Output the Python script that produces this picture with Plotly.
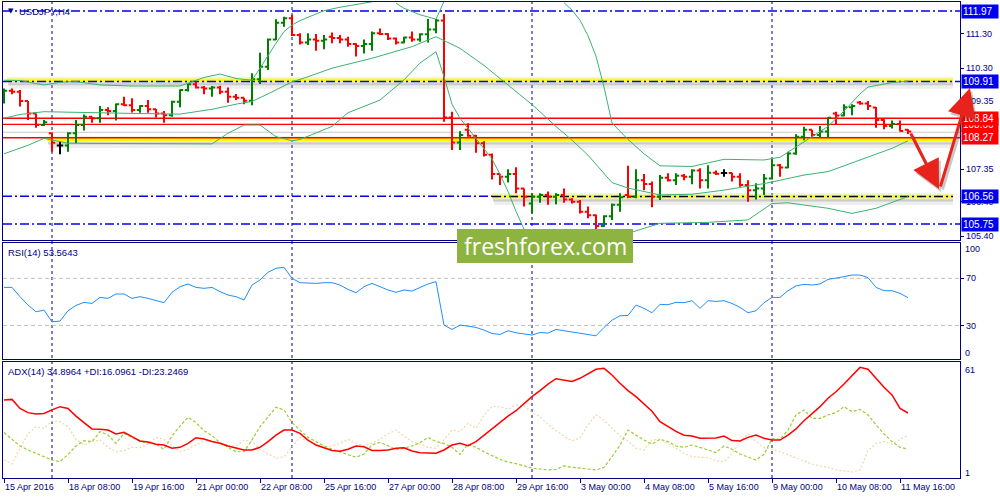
import plotly.graph_objects as go

# ---------------- data ----------------
tick_bars = [0, 8, 16, 24, 32, 40, 48, 56, 64, 72, 80, 88, 96, 104, 112]
tick_labels = ["15 Apr 2016", "18 Apr 08:00", "19 Apr 16:00", "21 Apr 00:00", "22 Apr 08:00",
               "25 Apr 16:00", "27 Apr 00:00", "28 Apr 08:00", "29 Apr 16:00", "3 May 00:00",
               "4 May 08:00", "5 May 16:00", "9 May 00:00", "10 May 08:00", "11 May 16:00"]
separator_bars = [6, 36, 66, 96]

opens = [109.40, 109.64, 109.61, 109.34, 108.98, 108.64, 108.40, 108.04, 108.04, 108.40,
         108.64, 108.88, 108.84, 109.08, 109.05, 109.25, 109.22, 109.08, 109.20, 109.10,
         108.98, 108.93, 109.32, 109.66, 109.83, 109.74, 109.71, 109.74, 109.61, 109.47,
         109.44, 109.35, 109.98, 110.34, 111.14, 111.63, 111.76, 111.27, 111.05, 111.14,
         111.10, 111.22, 111.18, 111.14, 111.01, 110.95, 111.01, 111.32, 111.30, 111.17,
         111.05, 111.20, 111.14, 111.29, 111.43, 111.69, 108.86, 108.13, 108.50, 108.33,
         108.11, 107.77, 107.21, 107.13, 107.21, 106.79, 106.35, 106.55, 106.60, 106.55,
         106.60, 106.47, 106.40, 106.11, 106.01, 105.69, 105.98, 106.31, 106.60, 106.55,
         107.03, 106.92, 106.55, 107.10, 107.03, 107.16, 107.13, 107.31, 107.03, 107.25,
         107.24, 107.24, 107.13, 106.89, 106.74, 106.79, 107.08, 107.47, 107.40, 107.81,
         108.30, 108.50, 108.35, 108.45, 108.98, 108.92, 109.16, 109.30, 109.27, 109.15,
         108.79, 108.61, 108.67, 108.50]
highs = [109.71, 109.71, 109.66, 109.34, 108.98, 108.79, 108.42, 108.15, 108.43, 108.79,
         108.95, 108.88, 109.20, 109.16, 109.27, 109.47, 109.42, 109.22, 109.37, 109.11,
         109.05, 109.35, 109.68, 109.86, 109.91, 109.78, 109.78, 109.79, 109.74, 109.55,
         109.44, 110.15, 110.75, 111.17, 111.73, 111.80, 111.85, 111.32, 111.32, 111.30,
         111.27, 111.34, 111.27, 111.22, 111.03, 111.14, 111.37, 111.46, 111.32, 111.20,
         111.22, 111.37, 111.32, 111.74, 111.74, 111.88, 109.03, 108.46, 108.69, 108.35,
         108.17, 107.81, 107.22, 107.35, 107.41, 106.79, 106.65, 106.65, 106.70, 106.65,
         106.79, 106.50, 106.45, 106.26, 106.03, 106.01, 106.35, 106.65, 107.45, 107.35,
         107.21, 106.99, 107.18, 107.23, 107.23, 107.21, 107.35, 107.38, 107.47, 107.31,
         107.35, 107.25, 107.23, 107.03, 106.94, 107.21, 107.64, 107.50, 107.86, 108.37,
         108.59, 108.50, 108.61, 108.87, 109.03, 109.25, 109.25, 109.34, 109.34, 109.17,
         108.81, 108.77, 108.77, 108.52]
lows = [109.27, 109.54, 109.18, 108.79, 108.56, 108.61, 107.86, 107.79, 107.86, 108.11,
        108.48, 108.71, 108.71, 108.93, 108.77, 109.20, 109.01, 109.00, 109.00, 108.86,
        108.71, 108.88, 109.16, 109.62, 109.71, 109.54, 109.47, 109.54, 109.29, 109.37,
        109.25, 109.22, 109.84, 110.25, 111.12, 111.51, 111.24, 110.99, 110.98, 110.81,
        110.85, 111.03, 111.03, 110.93, 110.64, 110.73, 110.81, 111.27, 111.12, 110.99,
        111.03, 111.07, 111.07, 111.05, 111.32, 108.74, 107.91, 107.91, 108.30, 107.83,
        107.72, 107.05, 106.89, 106.96, 106.65, 106.26, 106.06, 106.37, 106.31, 106.33,
        106.37, 106.35, 106.06, 105.92, 105.59, 105.67, 105.87, 106.11, 106.50, 106.50,
        106.74, 106.24, 106.45, 106.99, 106.89, 107.03, 106.91, 106.79, 106.79, 107.18,
        107.13, 106.99, 106.84, 106.40, 106.47, 106.60, 107.05, 107.13, 107.38, 107.77,
        108.20, 108.28, 108.28, 108.28, 108.64, 108.90, 108.93, 109.23, 109.08, 108.56,
        108.52, 108.54, 108.45, 108.38]
closes = [109.64, 109.61, 109.34, 108.98, 108.64, 108.72, 108.12, 108.04, 108.40, 108.64,
          108.88, 108.84, 109.08, 109.05, 109.25, 109.22, 109.08, 109.20, 109.10, 108.98,
          108.93, 109.32, 109.66, 109.83, 109.74, 109.71, 109.74, 109.61, 109.47, 109.44,
          109.35, 109.98, 110.34, 111.14, 111.63, 111.76, 111.27, 111.05, 111.14, 111.10,
          111.14, 111.18, 111.14, 111.01, 110.95, 111.01, 111.32, 111.30, 111.17, 111.05,
          111.20, 111.14, 111.29, 111.43, 111.69, 108.86, 108.13, 108.35, 108.33, 108.11,
          107.77, 107.21, 107.13, 107.21, 106.79, 106.55, 106.55, 106.60, 106.55, 106.60,
          106.47, 106.40, 106.11, 106.01, 105.69, 105.98, 106.31, 106.53, 106.55, 107.03,
          106.92, 106.55, 107.10, 107.03, 107.16, 107.13, 107.31, 107.03, 107.25, 107.22,
          107.24, 107.13, 106.89, 106.74, 106.79, 107.08, 107.47, 107.40, 107.81, 108.30,
          108.50, 108.35, 108.45, 108.85, 108.92, 109.16, 109.20, 109.27, 109.20, 108.79,
          108.61, 108.67, 108.47, 108.45]
doji_bars = [7, 90]

# Bollinger bands (None = off-chart)
bb_upper_x = [0, 2, 5, 7, 9, 12, 16, 22, 25, 27, 29, 31, 32, 33, 34, 35, 36, 37, 40, 42, 44, 46,
              None, 49, 50, 52, 54, 55, None,
              70, 71, 72, 73, 74, 75, 76, 77, 78, 80, 82, 86, 90, 95, 97, 99, 101, 103, 105,
              106, 107, 108, 111, 113]
bb_upper_y = [109.95, 109.94, 109.81, 109.89, 109.91, 109.81, 109.78, 109.78, 110.03, 110.13,
              110.00, 109.95, 110.30, 110.68, 111.03, 111.37, 111.56, 111.69, 111.98, 112.08,
              112.16, 112.24, None, 112.20, 112.05, 111.86, 111.73, 112.25, None,
              112.21, 112.00, 111.70, 111.25, 110.65, 109.75, 108.70, 108.45, 108.22, 107.80,
              107.45, 107.43, 107.64, 107.62, 107.70, 108.00, 108.30, 108.60, 109.05, 109.30,
              109.55, 109.75, 109.88, 109.92]
bb_mid_x = [0, 2, 5, 10, 16, 22, 26, 29, 31, 33, 36, 38, 41, 46, 51, 54, 57, 60, 62, 66, 69, 71,
            73, 76, 78, 82, 86, 90, 95, 100, 103, 107, 111, 113]
bb_mid_y = [108.84, 108.95, 109.03, 109.00, 108.98, 108.96, 109.10, 109.25, 109.33, 109.55,
            109.90, 110.05, 110.30, 110.59, 110.93, 111.22, 110.88, 110.38, 110.00, 109.24,
            108.60, 108.20, 107.76, 106.96, 106.80, 106.60, 106.62, 106.74, 106.93, 107.18,
            107.28, 107.62, 107.96, 108.18]
bb_low_x = [0, 3, 5, 8, 15, 26, 28, 30, 32, 34, 36, 37, 41, 43, 47, 50, 52, 54, 55, 56, 57, 58,
            59, 60, 61, 62, 63, 64, 65, None, 78, 82, 88, 93, 96, 98, 103, 106, 109, 113]
bb_low_y = [107.80, 108.05, 108.25, 108.11, 108.10, 108.09, 108.40, 108.64, 108.64, 108.30,
            108.18, 108.22, 108.60, 109.00, 109.37, 109.96, 110.45, 110.78, 110.05, 109.25,
            108.84, 108.54, 108.25, 107.95, 107.65, 107.20, 106.70, 106.12, 105.60, None,
            105.48, 105.77, 105.80, 105.87, 106.35, 106.37, 106.21, 106.06, 106.21, 106.55]

rsi = [62.3, 62.3, 54.4, 47.3, 41.6, 43.0, 33.1, 33.7, 42.5, 47.0,
       49.6, 48.7, 53.8, 53.0, 56.7, 56.7, 53.0, 54.4, 53.0, 51.0,
       49.3, 58.1, 62.9, 65.2, 62.3, 61.5, 62.3, 58.7, 55.8, 54.4,
       51.6, 64.3, 68.6, 75.1, 78.5, 79.4, 70.0, 66.3, 65.7, 65.7,
       66.3, 66.3, 64.3, 60.6, 57.8, 62.9, 65.7, 62.9, 60.1, 58.1,
       60.1, 59.2, 62.3, 65.2, 67.2, 30.3, 26.6, 30.3, 29.4, 28.3,
       26.0, 23.2, 22.3, 25.5, 23.8, 22.6, 21.8, 24.0, 23.5, 26.6,
       25.5, 24.6, 23.5, 22.6, 21.2, 28.3, 34.5, 38.2, 38.5, 47.3,
       44.5, 40.8, 47.9, 47.6, 49.6, 49.3, 51.0, 44.5, 51.0, 50.4,
       51.0, 48.7, 45.3, 40.8, 42.5, 49.3, 53.8, 53.8, 59.5, 63.5,
       64.9, 64.3, 65.2, 69.1, 70.0, 71.4, 72.8, 72.8, 70.6, 62.3,
       59.5, 59.5, 57.2, 53.6]
adx = [41.7, 42.0, 37.3, 35.1, 34.4, 34.7, 36.5, 38.2, 37.3, 33.3,
       29.9, 26.6, 26.4, 26.0, 24.0, 24.8, 22.6, 20.3, 19.8, 18.6,
       18.2, 16.5, 17.0, 19.1, 22.0, 21.3, 20.0, 19.1, 17.7, 16.5,
       15.6, 15.6, 17.0, 20.0, 23.4, 26.0, 26.0, 24.3, 20.8, 18.2,
       16.8, 15.3, 14.9, 16.0, 17.7, 17.3, 15.4, 15.3, 15.6, 16.5,
       16.8, 15.1, 14.2, 13.9, 13.9, 15.6, 18.2, 19.1, 17.9, 20.0,
       23.4, 26.9, 30.4, 33.3, 36.1, 40.0, 43.4, 46.6, 50.0, 52.8,
       52.1, 51.3, 53.0, 55.3, 57.7, 58.2, 54.7, 50.4, 46.6, 43.4,
       39.5, 35.8, 30.4, 27.8, 25.3, 23.3, 22.9, 21.7, 21.7, 21.9,
       22.9, 20.5, 20.3, 22.2, 23.4, 21.7, 20.8, 20.8, 23.4, 26.6,
       30.9, 34.7, 38.2, 42.6, 46.0, 50.0, 54.2, 58.7, 57.7, 53.0,
       48.3, 44.3, 37.3, 34.9]
plus_di = [24.7, 21.3, 17.7, 15.6, 13.9, 11.8, 10.4, 9.5, 13.3, 17.7,
           20.5, 20.0, 25.2, 23.4, 19.1, 24.3, 22.2, 20.0, 19.4, 18.7,
           16.0, 22.9, 28.1, 32.7, 29.9, 25.7, 23.1, 19.4, 17.0, 14.7,
           14.7, 20.8, 27.8, 33.0, 37.9, 36.5, 29.9, 26.0, 22.2, 20.0,
           17.7, 16.0, 14.7, 13.0, 11.8, 13.5, 18.2, 19.6, 17.7, 16.0,
           16.5, 17.7, 19.4, 22.2, 20.0, 19.1, 17.0, 13.3, 18.7, 17.0,
           14.7, 12.5, 10.7, 9.3, 8.5, 7.3, 6.2, 5.7, 5.2, 5.5,
           7.3, 6.6, 6.0, 5.7, 5.2, 6.6, 12.1, 18.2, 26.0, 23.4,
           20.8, 18.7, 21.2, 20.0, 17.7, 17.0, 18.2, 17.0, 15.6, 14.2,
           17.7, 16.0, 13.5, 12.1, 10.4, 13.3, 21.5, 21.2, 26.0, 33.9,
           36.5, 32.1, 32.1, 33.9, 35.1, 38.2, 35.6, 36.8, 33.9, 28.7,
           24.0, 20.0, 17.0, 16.1]
minus_di = [10.4, 8.3, 16.5, 24.0, 27.8, 26.9, 30.7, 30.4, 27.8, 21.2,
            18.2, 20.0, 20.8, 17.0, 14.7, 15.3, 17.0, 16.8, 18.7, 22.2,
            21.2, 17.7, 14.7, 16.0, 18.2, 20.5, 20.0, 19.4, 17.7, 17.7,
            20.8, 20.0, 16.0, 13.5, 11.3, 12.1, 17.0, 22.2, 20.0, 18.7,
            17.3, 17.7, 19.1, 21.2, 19.1, 17.7, 19.1, 21.2, 24.0, 26.0,
            22.9, 20.0, 18.7, 17.0, 16.5, 20.8, 26.0, 25.2, 29.5, 26.9,
            33.9, 38.2, 38.2, 36.8, 39.1, 38.6, 35.1, 33.0, 29.0, 25.7,
            22.9, 20.3, 22.0, 28.7, 33.9, 31.3, 26.9, 22.9, 20.5, 16.5,
            15.6, 20.8, 21.2, 19.1, 16.5, 13.9, 12.1, 11.8, 11.6, 10.0,
            9.5, 13.5, 20.0, 24.0, 20.0, 16.8, 16.0, 14.7, 13.0, 11.4,
            9.9, 8.3, 7.3, 6.6, 5.2, 4.7, 4.1, 5.2, 15.3, 19.1,
            20.0, 18.7, 21.2, 23.2]

price_ticks = [111.30, 110.30, 109.35, 107.35, 106.40, 105.40]
rsi_levels = [70, 30]
blue_levels = [111.97, 109.91, 106.56, 105.75]
red_levels = [108.84, 108.66, 108.27]
bid_price = 108.43
yellow_levels = [109.95, 108.22, 106.555]
trend_level = 106.555
label_prices = [111.97, 109.91, 108.66, 108.84, 108.27, 106.56, 105.75]
label_kinds = ["blue", "blue", "red", "red", "red", "blue", "blue"]

symbol_text = "USDJPY,H4"
rsi_text = "RSI(14) 53.5643"
adx_text = "ADX(14) 34.8964 +DI:16.0961 -DI:23.2469"
watermark_text = "freshforex.com"

# ---------------- layout geometry / style ----------------
N = len(closes)
bars = list(range(N))
FIG_W, FIG_H = 1000, 500
ML, MR, MT, MB = 3, 40, 2, 22
PW, PH = FIG_W - ML - MR, FIG_H - MT - MB
X_RANGE = [-0.125, 119.5]
PRICE_RANGE = [105.284, 112.233]
RSI_RANGE = [1.5, 100]
ADX_RANGE = [1, 61.5]


def fx(px):
    return (px - ML) / PW


def fy(py):
    return (FIG_H - MB - py) / PH


MAIN_DOM = [fy(240), fy(2)]
RSI_DOM = [fy(359), fy(243)]
ADX_DOM = [fy(478), fy(362)]
PRICE_PER_PX = (PRICE_RANGE[1] - PRICE_RANGE[0]) / (240 - 2)

NAVY = "#000080"
FONT = "Liberation Sans"
BLUE = "#0000F0"
RED = "#FF0000"
GREEN_BAR = "#008000"
BB_COLOR = "#3CB371"

fig = go.Figure()

regular = [i for i in bars if i not in doji_bars]
fig.add_trace(go.Ohlc(
    x=regular,
    open=[opens[i] for i in regular], high=[highs[i] for i in regular],
    low=[lows[i] for i in regular], close=[closes[i] for i in regular],
    increasing=dict(line=dict(color=GREEN_BAR, width=2)),
    decreasing=dict(line=dict(color=RED, width=2)),
    tickwidth=0.4, xaxis="x", yaxis="y", hoverinfo="none"))
fig.add_trace(go.Ohlc(
    x=doji_bars,
    open=[opens[i] for i in doji_bars], high=[highs[i] for i in doji_bars],
    low=[lows[i] for i in doji_bars], close=[closes[i] for i in doji_bars],
    increasing=dict(line=dict(color="black", width=2)),
    decreasing=dict(line=dict(color="black", width=2)),
    tickwidth=0.4, xaxis="x", yaxis="y", hoverinfo="none"))

for bx, by in [(bb_upper_x, bb_upper_y), (bb_mid_x, bb_mid_y), (bb_low_x, bb_low_y)]:
    fig.add_trace(go.Scatter(x=bx, y=by, mode="lines", connectgaps=False,
                             line=dict(color=BB_COLOR, width=1), xaxis="x", yaxis="y"))

fig.add_trace(go.Scatter(x=bars, y=rsi, mode="lines", line=dict(color="#1E90FF", width=1),
                         xaxis="x2", yaxis="y2"))

fig.add_trace(go.Scatter(x=bars, y=minus_di, mode="lines",
                         line=dict(color="#F0D7A8", width=1.2, dash="2px,2px"), xaxis="x3", yaxis="y3"))
fig.add_trace(go.Scatter(x=bars, y=plus_di, mode="lines",
                         line=dict(color="#9ACD32", width=1.2, dash="3px,2px"), xaxis="x3", yaxis="y3"))
fig.add_trace(go.Scatter(x=bars, y=adx, mode="lines", line=dict(color="#FF0000", width=1.5),
                         xaxis="x3", yaxis="y3"))

shapes = []


def hline(price, x0px, x1px, color, width, dash="solid", layer="below", yref="y"):
    shapes.append(dict(type="line", xref="paper", yref=yref, x0=fx(x0px), x1=fx(x1px),
                       y0=price, y1=price, layer=layer,
                       line=dict(color=color, width=width, dash=dash)))


# week separators
for b in separator_bars:
    shapes.append(dict(type="line", xref="x", yref="paper", x0=b, x1=b, y0=0, y1=1, layer="below",
                       line=dict(color=NAVY, width=1, dash="3px,3px")))

# RSI levels
for lv in rsi_levels:
    hline(lv, ML, ML + PW, "#C0C0C0", 1, "4px,3px", yref="y2")

# yellow highlighted levels with soft shadow
yellow_start_px = [7, 47, 492]
for lv, x0 in zip(yellow_levels, yellow_start_px):
    hline(lv - 6 * PRICE_PER_PX, x0 + 2, 953, "rgba(150,150,150,0.16)", 5)
    hline(lv - 3.5 * PRICE_PER_PX, x0 + 1, 953, "rgba(120,120,120,0.30)", 3)
    hline(lv + 2.5 * PRICE_PER_PX, x0, 953, "rgba(160,160,160,0.15)", 2)
    hline(lv, x0, 953, "#FFFF00", 3.5)

# blue dash-dot levels
for lv in blue_levels:
    x1 = 492 if abs(lv - trend_level) < 0.05 else ML + PW
    hline(lv, ML, x1, BLUE, 1.6, "9px,3px,2px,3px")
hline(trend_level, 492, 953, "#000000", 1.5, "9px,3px,2px,3px")

# bid line and red levels
hline(bid_price, ML, ML + PW, "#C8C8C8", 1)
for lv in red_levels:
    hline(lv, ML, ML + PW, RED, 1.4)

# watermark box
shapes.append(dict(type="rect", xref="paper", yref="paper", x0=fx(457), x1=fx(633),
                   y0=fy(263), y1=fy(229), fillcolor="#8DB43F", line=dict(width=0), layer="above"))

ann = []
# price labels
for p, kind in zip(label_prices, label_kinds):
    ann.append(dict(xref="paper", yref="y", x=fx(961), y=p, xanchor="left", yanchor="middle",
                    text=f"{p:.2f}", showarrow=False,
                    font=dict(family=FONT, size=10, color="white"),
                    bgcolor=BLUE if kind == "blue" else RED,
                    width=34, height=11, borderpad=1, align="left"))

# arrows (shadow first)
arrows = [((910, 132), (939, 189)), ((940, 188), (970, 88))]
for (tx, ty), (hx, hy) in arrows:
    ann.append(dict(xref="paper", yref="paper", x=fx(hx + 2), y=fy(hy + 3), axref="pixel", ayref="pixel",
                    ax=tx - hx, ay=ty - hy, text="", showarrow=True, arrowhead=2, arrowsize=1.9,
                    arrowwidth=3, arrowcolor="rgba(60,60,60,0.28)"))
for (tx, ty), (hx, hy) in arrows:
    ann.append(dict(xref="paper", yref="paper", x=fx(hx), y=fy(hy), axref="pixel", ayref="pixel",
                    ax=tx - hx, ay=ty - hy, text="", showarrow=True, arrowhead=2, arrowsize=1.9,
                    arrowwidth=3, arrowcolor="#E8231B"))

# watermark text
ann.append(dict(xref="paper", yref="paper", x=fx(545), y=fy(246), text=watermark_text,
                showarrow=False, font=dict(family="Open Sans", size=23, color="white"),
                xanchor="center", yanchor="middle"))

# panel titles
ann.append(dict(xref="paper", yref="paper", x=fx(6), y=fy(11), text="▼", showarrow=False,
                font=dict(family="DejaVu Sans", size=7, color=NAVY), xanchor="left", yanchor="middle"))
ann.append(dict(xref="paper", yref="paper", x=fx(17), y=fy(11), text=symbol_text, showarrow=False,
                font=dict(family=FONT, size=9.5, color=NAVY), xanchor="left", yanchor="middle"))
ann.append(dict(xref="paper", yref="paper", x=fx(6), y=fy(252), text=rsi_text, showarrow=False,
                font=dict(family=FONT, size=9.5, color=NAVY), xanchor="left", yanchor="middle"))
ann.append(dict(xref="paper", yref="paper", x=fx(6), y=fy(371), text=adx_text, showarrow=False,
                font=dict(family=FONT, size=9.5, color=NAVY), xanchor="left", yanchor="middle"))

# indicator window edge values
for txt, py in [("100", 249), ("0", 353), ("61", 370), ("1", 473)]:
    ann.append(dict(xref="paper", yref="paper", x=fx(963), y=fy(py), text=txt, showarrow=False,
                    font=dict(family=FONT, size=9, color=NAVY), xanchor="left", yanchor="middle"))

axis_common = dict(showgrid=False, zeroline=False, showline=True, mirror=True,
                   linecolor=NAVY, linewidth=1.2, fixedrange=True)
tickfont = dict(family=FONT, size=9, color=NAVY)

fig.update_layout(
    width=FIG_W, height=FIG_H,
    margin=dict(l=ML, r=MR, t=MT, b=MB),
    paper_bgcolor="white", plot_bgcolor="white",
    showlegend=False, hovermode=False,
    xaxis=dict(domain=[0, 1], anchor="y", range=X_RANGE, showticklabels=False, ticks="",
               rangeslider=dict(visible=False), **axis_common),
    xaxis2=dict(domain=[0, 1], anchor="y2", range=X_RANGE, matches="x", showticklabels=False,
                ticks="", **axis_common),
    xaxis3=dict(domain=[0, 1], anchor="y3", range=X_RANGE, matches="x", tickmode="array",
                tickvals=tick_bars, ticktext=tick_labels, ticks="outside", ticklen=4,
                tickcolor=NAVY, ticklabelposition="outside right", tickfont=tickfont,
                **axis_common),
    yaxis=dict(domain=MAIN_DOM, anchor="x", side="right", range=PRICE_RANGE, tickmode="array",
               tickvals=price_ticks, ticktext=[f"{v:.2f}" for v in price_ticks], ticks="outside",
               ticklen=3, tickcolor=NAVY, tickfont=tickfont, **axis_common),
    yaxis2=dict(domain=RSI_DOM, anchor="x2", side="right", range=RSI_RANGE, tickmode="array",
                tickvals=rsi_levels, ticktext=[str(v) for v in rsi_levels], ticks="outside",
                ticklen=3, tickcolor=NAVY, tickfont=tickfont, **axis_common),
    yaxis3=dict(domain=ADX_DOM, anchor="x3", side="right", range=ADX_RANGE, tickmode="array",
                tickvals=[], ticks="", tickfont=tickfont, **axis_common),
    shapes=shapes,
    annotations=ann,
)

fig.write_html("out.html", config={"displayModeBar": False},
               post_script="document.body.style.margin='0';document.body.style.overflow='hidden';")
